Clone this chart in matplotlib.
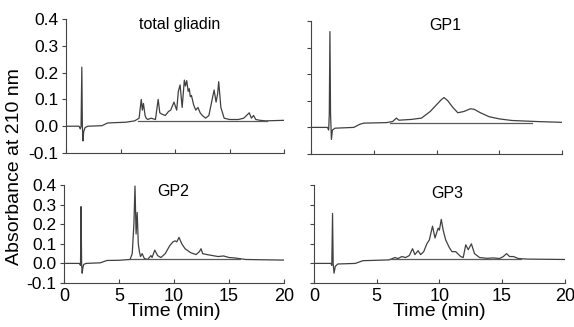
import matplotlib
matplotlib.use("Agg")
import matplotlib.pyplot as plt

plt.rcParams['font.family'] = ['Liberation Sans', 'DejaVu Sans']

# total gliadin
t_total = [0, 1.2, 1.3, 1.38, 1.45, 1.5, 1.56, 1.62, 1.75, 2.0, 3.3, 3.8, 4.3, 5.5, 6.3, 6.7, 6.9, 7.0,
           7.1, 7.25, 7.35, 7.5, 7.8, 8.2, 8.45, 8.6, 8.8, 9.1, 9.4, 9.6, 9.9, 10.15, 10.3, 10.46, 10.65,
           10.85, 10.95, 11.07, 11.2, 11.3, 11.4, 11.5, 11.7, 11.9, 12.1, 12.3, 12.5, 12.8, 13.1, 13.3,
           13.58, 13.76, 13.9, 14.0, 14.2, 14.5, 15.0, 15.8, 16.3, 16.8, 17.0, 17.2, 17.4, 17.8, 18.3, 20]
a_total = [0, 0, -0.01, 0.0, 0.22, 0.0, -0.055, -0.02, -0.005, 0, 0.002, 0.012, 0.013, 0.015, 0.02,
           0.03, 0.10, 0.06, 0.085, 0.04, 0.03, 0.025, 0.03, 0.025, 0.10, 0.05, 0.045, 0.04, 0.055,
           0.06, 0.09, 0.06, 0.13, 0.154, 0.07, 0.172, 0.15, 0.17, 0.13, 0.14, 0.11, 0.115, 0.08, 0.06,
           0.07, 0.05, 0.04, 0.03, 0.04, 0.08, 0.135, 0.09, 0.12, 0.166, 0.07, 0.03, 0.025, 0.025,
           0.03, 0.05, 0.03, 0.04, 0.025, 0.022, 0.02, 0.022]
base_total = ([6.6, 18.4], [0.02, 0.02])

# GP1
t_gp1 = [0, 1.3, 1.4, 1.45, 1.5, 1.55, 1.62, 1.7, 1.9, 3.4, 3.9, 4.2, 6.0, 6.5, 6.8, 7.0, 7.3, 8.0,
         8.8, 9.5, 10.0, 10.4, 10.6, 10.9, 11.3, 11.7, 12.2, 12.7, 13.0, 13.5, 14.2, 15.0, 16.0, 17.0,
         18.0, 20]
a_gp1 = [0, 0, -0.01, 0.05, 0.36, 0.05, -0.045, -0.01, -0.003, 0.0, 0.012, 0.016, 0.018, 0.022,
         0.035, 0.027, 0.028, 0.03, 0.035, 0.06, 0.085, 0.105, 0.112, 0.1, 0.075, 0.055, 0.06, 0.07,
         0.068, 0.055, 0.04, 0.032, 0.026, 0.024, 0.022, 0.019]
base_gp1 = ([6.3, 17.6], [0.017, 0.017])

# GP2
t_gp2 = [0, 1.4, 1.5, 1.55, 1.6, 1.65, 1.72, 1.8, 2.0, 3.3, 3.9, 5.0, 6.0, 6.2, 6.35, 6.45, 6.55,
         6.65, 6.75, 6.85, 6.95, 7.1, 7.3, 7.6, 7.9, 8.0, 8.25, 8.5, 8.8, 9.2, 9.6, 9.9, 10.1, 10.25,
         10.45, 10.7, 11.0, 11.5, 12.0, 12.3, 12.45, 12.6, 13.0, 13.5, 14.0, 14.5, 15.0, 15.5, 16.5,
         17.5, 20]
a_gp2 = [0, 0, -0.01, 0.29, 0.0, -0.05, -0.02, -0.005, 0, 0.003, 0.015, 0.016, 0.02, 0.05, 0.2,
         0.395, 0.15, 0.26, 0.1, 0.06, 0.035, 0.05, 0.025, 0.02, 0.04, 0.03, 0.068, 0.04, 0.03, 0.05,
         0.09, 0.11, 0.115, 0.11, 0.133, 0.1, 0.075, 0.055, 0.045, 0.06, 0.075, 0.05, 0.045, 0.04,
         0.035, 0.038, 0.03, 0.028, 0.02, 0.019, 0.017]
base_gp2 = ([6.0, 16.0], [0.021, 0.021])

# GP3
t_gp3 = [0, 1.35, 1.42, 1.48, 1.53, 1.6, 1.7, 1.9, 3.3, 3.9, 4.5, 6.0, 6.45, 6.7, 7.0, 7.3, 7.6,
         7.86, 8.05, 8.3, 8.5, 8.75, 9.0, 9.2, 9.45, 9.65, 9.9, 10.0, 10.15, 10.3, 10.5, 10.8, 11.0,
         11.3, 11.7, 11.9, 12.1, 12.3, 12.55, 12.8, 13.2, 13.8, 14.3, 14.8, 15.1, 15.35, 15.6, 15.9,
         16.3, 17.0, 20]
a_gp3 = [0, 0, -0.01, 0.255, 0.0, -0.05, -0.015, -0.003, 0.0, 0.014, 0.015, 0.018, 0.03, 0.025,
         0.035, 0.03, 0.04, 0.075, 0.045, 0.065, 0.045, 0.06, 0.1, 0.12, 0.19, 0.13, 0.18, 0.17,
         0.225, 0.17, 0.12, 0.08, 0.06, 0.06, 0.035, 0.03, 0.095, 0.07, 0.1, 0.05, 0.03, 0.026,
         0.028, 0.025, 0.035, 0.05, 0.035, 0.035, 0.025, 0.022, 0.02]
base_gp3 = ([6.0, 16.5], [0.021, 0.021])

xticks = [0, 5, 10, 15, 20]
yticks = [-0.1, 0.0, 0.1, 0.2, 0.3, 0.4]

fig = plt.figure(figsize=(5.74, 3.27), dpi=100)

panels = [
    ([0.115, 0.532, 0.380, 0.410], t_total, a_total, base_total, "total gliadin", 180, 25, True, False),
    ([0.542, 0.529, 0.437, 0.407], t_gp1, a_gp1, base_gp1, "GP1", 445, 25, False, False),
    ([0.1115, 0.1346, 0.3835, 0.2994], t_gp2, a_gp2, base_gp2, "GP2", 173, 192, True, True),
    ([0.547, 0.1346, 0.437, 0.2994], t_gp3, a_gp3, base_gp3, "GP3", 447, 193, False, True),
]

for rect, t, a, base, title, tx, ty, ylab, xlab in panels:
    ax = fig.add_axes(rect)
    ax.plot(t, a, color='#404040', lw=0.9)
    ax.plot(base[0], base[1], color='#5a5a5a', lw=0.9)
    ax.set_xlim(0, 20)
    ax.set_ylim(-0.1, 0.4)
    ax.set_xticks(xticks)
    ax.set_yticks(yticks)
    ax.spines['top'].set_visible(False)
    ax.spines['right'].set_visible(False)
    ax.spines['left'].set_color('#444444')
    ax.spines['bottom'].set_color('#444444')
    ax.tick_params(axis='x', direction='in', length=3, colors='#444444', labelcolor='black', labelsize=13)
    ax.tick_params(axis='y', direction='out', length=3, pad=2.5, colors='#444444', labelcolor='black',
                   labelsize=12.5)
    if ylab:
        ax.set_yticklabels(["-0.1", "0.0", "0.1", "0.2", "0.3", "0.4"])
    else:
        ax.set_yticklabels([])
    if xlab:
        ax.set_xticklabels([str(x) for x in xticks])
        ax.set_xlabel("Time (min)", fontsize=14, labelpad=-1)
    else:
        ax.set_xticklabels([])
    fig.text(tx / 574, 1 - ty / 327, title, fontsize=11.5, ha='center', va='center')

fig.text(15 / 574, 1 - 167 / 327, "Absorbance at 210 nm", fontsize=14, rotation=90,
         ha='center', va='center')

plt.savefig("out.png", dpi=100)
